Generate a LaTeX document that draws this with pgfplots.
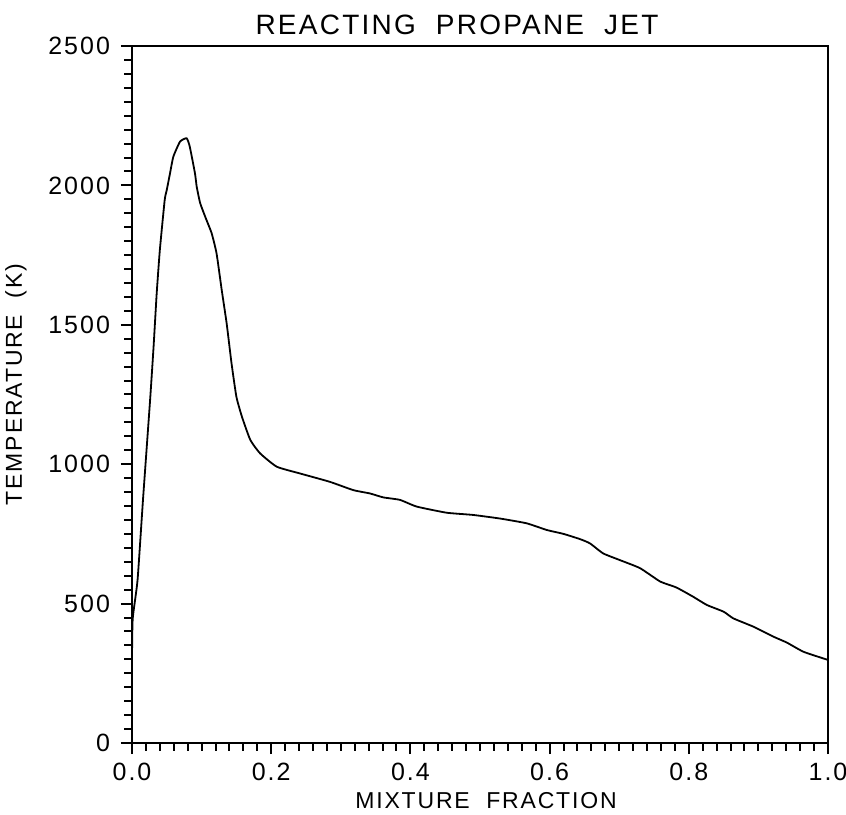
\documentclass[border=0pt]{standalone}
\usepackage{fontspec}
\setmainfont{Liberation Sans}
\newfontfamily\hfont[LetterSpace=8]{Liberation Sans}
\usepackage{pgfplots}
\pgfplotsset{compat=1.18}

\begin{document}
\begin{tikzpicture}
\useasboundingbox (-66pt,-35.5pt) rectangle (357pt,371.5pt);
\begin{axis}[
  scale only axis,
  width=348pt, height=348.5pt,
  xmin=0, xmax=1, ymin=0, ymax=2500,
  xtick={0,0.2,0.4,0.6,0.8,1.0},
  ytick={0,500,1000,1500,2000,2500},
  minor x tick num=9,
  minor y tick num=9,
  tick align=outside,
  xtick pos=bottom, ytick pos=left,
  major tick length=5.5pt,
  minor tick length=3.8pt,
  tick style={line width=1pt, black},
  axis line style={line width=1pt},
  x tick label style={/pgf/number format/fixed, /pgf/number format/fixed zerofill,
    /pgf/number format/precision=1, yshift=-1pt},
  y tick label style={/pgf/number format/1000 sep={}, xshift=-2pt},
  /pgf/number format/assume math mode=true,
  tick label style={font=\hfont\fontsize{12.5}{14}\selectfont},
  title={REACTING\ \ PROPANE\ \ JET},
  title style={font=\hfont\fontsize{14}{16}\selectfont, yshift=-4pt, xshift=-11.5pt},
  xlabel={MIXTURE\ \ FRACTION},
  ylabel={TEMPERATURE\ \ (K)},
  xlabel style={font=\hfont\fontsize{11.5}{13}\selectfont, xshift=3pt, yshift=1pt},
  ylabel style={font=\hfont\fontsize{11.5}{13}\selectfont, yshift=4pt, xshift=5pt},
]
\addplot[black, line width=0.9pt, smooth, tension=0.3] coordinates {
  (0,300) (0.001,445) (0.008,585) (0.016,880) (0.026,1230) (0.031,1421)
  (0.0355,1613) (0.040,1768) (0.047,1948) (0.050,1984) (0.0546,2043)
  (0.0594,2103) (0.069,2157) (0.0785,2169) (0.083,2139) (0.0905,2043)
  (0.093,1995) (0.098,1936) (0.107,1876) (0.1145,1828) (0.1215,1756)
  (0.1289,1625) (0.136,1505) (0.143,1362) (0.150,1242) (0.158,1170)
  (0.170,1087) (0.184,1039) (0.208,991) (0.241,967) (0.284,937)
  (0.318,907) (0.342,895) (0.361,881) (0.385,872) (0.409,848)
  (0.452,826) (0.490,818) (0.529,805) (0.567,788) (0.596,764)
  (0.620,750) (0.644,731) (0.658,716) (0.677,680) (0.701,656)
  (0.730,627) (0.759,579) (0.782,558) (0.806,525) (0.826,495)
  (0.850,471) (0.864,447) (0.893,417) (0.922,381) (0.941,360)
  (0.965,327) (1.0,298)
};
\end{axis}
\end{tikzpicture}
\end{document}
